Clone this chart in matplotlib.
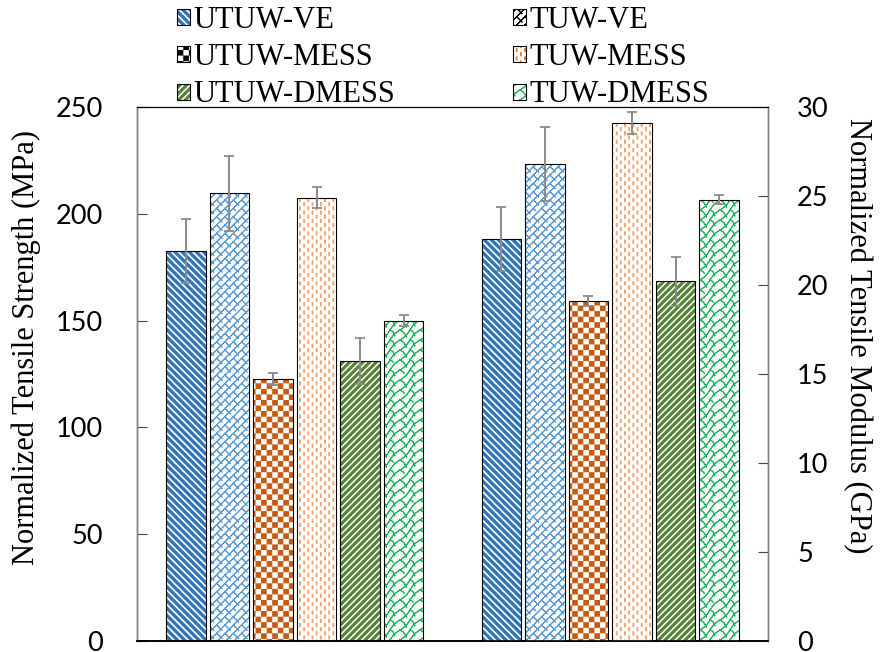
import warnings
warnings.filterwarnings('ignore')
import numpy as np
import matplotlib
matplotlib.use('Agg')
import matplotlib.pyplot as plt
import matplotlib.hatch as mhatch
import matplotlib.colors as mcolors
from matplotlib.path import Path
from matplotlib.patches import Patch
from matplotlib.font_manager import FontProperties

# ---------------- data ----------------
series = ['UTUW-VE', 'TUW-VE', 'UTUW-MESS', 'TUW-MESS', 'UTUW-DMESS', 'TUW-DMESS']
strength = [182.6, 209.6, 122.7, 207.5, 131.1, 150.0]        # MPa (left axis)
strength_err = [15.0, 17.6, 2.8, 4.9, 10.6, 2.5]
modulus = [22.6, 26.8, 19.1, 29.1, 20.2, 24.8]               # GPa (right axis)
modulus_err = [1.8, 2.1, 0.3, 0.6, 1.4, 0.25]
left_ticks = [0, 50, 100, 150, 200, 250]
right_ticks = [0, 5, 10, 15, 20, 25, 30]
left_label = 'Normalized Tensile Strength (MPa)'
right_label = 'Normalized Tensile Modulus (GPa)'

# ---------------- styles ----------------
bar_colors = ['#2E75B6', '#5B9BD5', '#C55A11', '#F2A46E', '#548235', '#22B35E']
legend_hatch_colors = ['#2E75B6', '#000000', '#000000', '#E8803A', '#548235', '#22B35E']
hatches = ['a', 'b', 'c', 'd', 'e', 'f']

# ---------------- custom hatch patterns ----------------
MV, LN, CL = Path.MOVETO, Path.LINETO, Path.CLOSEPOLY


def _poly(pts):
    v = list(pts) + [pts[0]]
    c = [MV] + [LN] * (len(pts) - 1) + [CL]
    return v, c


def _line(pts):
    pts = list(pts)
    v = pts + pts[-2::-1]
    c = [MV] + [LN] * (len(v) - 1)
    return v, c


def _pack(parts):
    V, C = [], []
    for v, c in parts:
        V += v
        C += c
    return np.array(V, float), np.array(C, dtype=Path.code_type)


def stripes(n, frac, forward):
    p = 1.0 / n
    w = frac * p
    parts = []
    for k in range(-n - 2, 2 * n + 3):
        a = k * p
        if forward:
            pts = [(-1, a - 1), (2, a + 2), (2, a + w + 2), (-1, a + w - 1)]
        else:
            pts = [(-1, a + 1), (2, a - 2), (2, a + w - 2), (-1, a + w + 1)]
        parts.append(_poly(pts))
    return _pack(parts)


def checker(n, inset):
    c = 1.0 / n
    parts = []
    for i in range(n):
        for j in range(n):
            if (i + j) % 2 == 0:
                x0, y0 = i * c + inset, j * c + inset
                x1, y1 = (i + 1) * c - inset, (j + 1) * c - inset
                parts.append(_poly([(x0, y0), (x1, y0), (x1, y1), (x0, y1)]))
    return _pack(parts)


def dashes(n, length, width):
    P = 1.0 / n
    parts = []
    for i in range(-1, n + 1):
        for j in range(-1, n + 1):
            for ox, oy in [(0, 0), (P / 2, P / 2)]:
                cx, cy = i * P + ox, j * P + oy
                x0, x1 = cx - width / 2, cx + width / 2
                y0, y1 = cy - length / 2, cy + length / 2
                parts.append(_poly([(x0, y0), (x1, y0), (x1, y1), (x0, y1)]))
    return _pack(parts)


def brick(n, amp=0.0, bulge=0.0):
    s = 1.0 / n
    Lb = 2 * s
    om = 2 * np.pi / Lb

    def pt(k, t):
        c0 = k * s
        d = amp * np.sin(om * t + (np.pi if k % 2 else 0))
        return (t + c0 + d, t - d)

    parts = []
    for k in range(-n - 3, n + 4):
        ts = np.linspace(-1.3, 2.3, 240) if amp else np.array([-1.3, 2.3])
        parts.append(_line([pt(k, t) for t in ts]))
    for k in range(-n - 3, n + 4):
        for m in range(-3, int(round(2 / Lb)) + 4):
            T = m * Lb + (Lb / 2 if k % 2 else 0)
            t1 = (T - k * s) / 2
            t2 = (T - (k + 1) * s) / 2
            P1 = np.array(pt(k, t1))
            P2 = np.array(pt(k + 1, t2))
            if bulge:
                us = np.linspace(0, 1, 9)
                mid = (P1 + P2) / 2 + bulge * np.array([1, 1]) / np.sqrt(2)
                pts = [tuple((1 - u) ** 2 * P1 + 2 * u * (1 - u) * mid + u ** 2 * P2) for u in us]
            else:
                pts = [tuple(P1), tuple(P2)]
            parts.append(_line(pts))
    return _pack(parts)


PATTERNS = {
    'a': stripes(14, 0.45, forward=False),
    'b': brick(12),
    'c': checker(18, 0.005),
    'd': dashes(12, 0.032, 0.008),
    'e': stripes(15, 0.45, forward=True),
    'f': brick(10, amp=0.007, bulge=0.016),
}


class _CustomHatch(mhatch.HatchPatternBase):
    def __init__(self, hatch, density):
        self.parts = [PATTERNS[ch] for ch in hatch if ch in PATTERNS]
        self.num_vertices = sum(len(p[0]) for p in self.parts)

    def set_vertices_and_codes(self, vertices, codes):
        i = 0
        for v, c in self.parts:
            n = len(v)
            vertices[i:i + n] = v
            codes[i:i + n] = c
            i += n


mhatch._hatch_types.append(_CustomHatch)
mhatch._validate_hatch_pattern = lambda h: None


def set_hcolor(p, c):
    if hasattr(p, 'set_hatchcolor'):
        p.set_hatchcolor(c)
    else:
        p._hatch_color = mcolors.to_rgba(c)


# ---------------- figure ----------------
plt.rcParams['font.family'] = ['Lato', 'DejaVu Sans']
plt.rcParams['hatch.linewidth'] = 0.75

serif_fp = FontProperties(family=['Liberation Serif', 'DejaVu Serif'], size=22)

W, H = 881, 652
fig = plt.figure(figsize=(W / 100, H / 100), dpi=100)
fig.patch.set_facecolor('white')
L_, R_, T_, B_ = 137, 768, 107, 641
ax = fig.add_axes([L_ / W, 1 - B_ / H, (R_ - L_) / W, (B_ - T_) / H])
ax2 = ax.twinx()

width = 0.125
step = 0.138
offsets = (np.arange(len(series)) - 2.5) * step
ekw = dict(ecolor='#8a8a8a', elinewidth=1.4, capsize=3.5, capthick=1.3)

for i, name in enumerate(series):
    b1 = ax.bar(0 + offsets[i], strength[i], width, yerr=strength_err[i],
                color='white', edgecolor='black', linewidth=0.8,
                hatch=hatches[i], error_kw=ekw)
    b2 = ax2.bar(1 + offsets[i], modulus[i], width, yerr=modulus_err[i],
                 color='white', edgecolor='black', linewidth=0.8,
                 hatch=hatches[i], error_kw=ekw)
    for p in list(b1) + list(b2):
        set_hcolor(p, bar_colors[i])

ax.set_xlim(-0.5, 1.5)
ax.set_ylim(left_ticks[0], left_ticks[-1])
ax2.set_ylim(right_ticks[0], right_ticks[-1])
ax.set_xticks([])
ax.set_yticks(left_ticks)
ax2.set_yticks(right_ticks)

ax.tick_params(axis='y', direction='in', length=7, width=0.8, color='#444444',
               pad=24.5, labelsize=19.5)
ax2.tick_params(axis='y', direction='in', length=7, width=0.8, color='#444444',
                pad=21, labelsize=19.5)

for a in (ax, ax2):
    a.spines['top'].set_color('black')
    a.spines['top'].set_linewidth(0.8)
    a.spines['bottom'].set_color('black')
    a.spines['bottom'].set_linewidth(1.2)
    a.spines['left'].set_color('#808080')
    a.spines['left'].set_linewidth(1.0)
    a.spines['right'].set_color('#808080')
    a.spines['right'].set_linewidth(1.0)

fig.text(26 / W, 1 - 347.5 / H, left_label, rotation=90, ha='center', va='center',
         fontproperties=serif_fp)
fig.text(857 / W, 1 - 336 / H, right_label, rotation=270, ha='center', va='center',
         fontproperties=serif_fp)

# legend
handles = []
for i, name in enumerate(series):
    p = Patch(facecolor='white', edgecolor='black', linewidth=0.8,
              hatch=hatches[i], label=name)
    set_hcolor(p, legend_hatch_colors[i])
    handles.append(p)
order = [0, 2, 4, 1, 3, 5]
fig.legend(handles=[handles[k] for k in order], loc='upper left',
           bbox_to_anchor=(177 / W, 1 - 6 / H), ncol=2, frameon=False,
           prop=serif_fp, handlelength=0.42,
           handleheight=0.42, handletextpad=0.12, labelspacing=0.27,
           columnspacing=3.85, borderpad=0, borderaxespad=0)

fig.savefig('out.png', dpi=100, facecolor='white')
